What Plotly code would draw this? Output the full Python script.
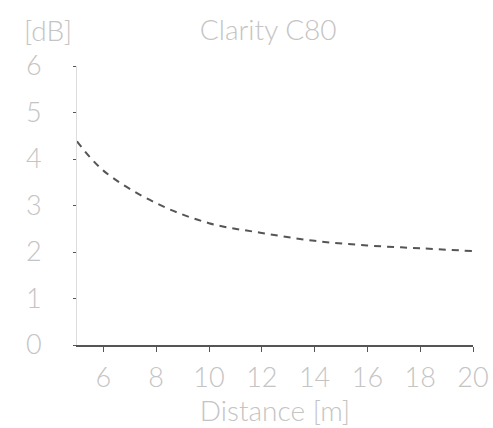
import plotly.graph_objects as go

distance = [5, 6, 8, 10, 12, 14, 16, 18, 20]
c80 = [4.38, 3.75, 3.05, 2.62, 2.41, 2.24, 2.14, 2.08, 2.02]

x_ticks = [6, 8, 10, 12, 14, 16, 18, 20]
y_ticks = [0, 1, 2, 3, 4, 5, 6]

FONT = "Lato"
WEIGHT = 300
GREY = "#c4c4c4"
SIZE = 27

def f(size=SIZE):
    return dict(family=FONT, size=size, color=GREY, weight=WEIGHT)

fig = go.Figure()
fig.add_trace(go.Scatter(
    x=distance, y=c80, mode="lines", line_shape="spline",
    line=dict(color="#555555", width=2, dash="7px,6px"),
    showlegend=False, hoverinfo="skip",
))

fig.update_layout(
    width=493, height=428,
    margin=dict(l=77, r=20, t=66, b=83, autoexpand=False),
    paper_bgcolor="white", plot_bgcolor="white",
    font=f(),
    title=dict(text="Clarity C80", x=0.544, xanchor="center", y=0.93, yanchor="middle", font=f(28)),
    xaxis=dict(
        range=[5, 20], tickvals=x_ticks, ticks="outside", ticklen=5, tickcolor="#555555",
        showline=True, linecolor="#555555", linewidth=1.5, showgrid=False, zeroline=False,
        automargin=False, tickfont=f(), ticklabelstandoff=3,
        title=dict(text="Distance [m]", standoff=6, font=f(28)),
    ),
    yaxis=dict(
        range=[0, 6], tickvals=y_ticks, ticks="outside", ticklen=3, tickcolor="#555555",
        showline=True, linecolor="#dddddd", linewidth=1, showgrid=False, zeroline=False,
        automargin=False, ticklabelstandoff=26, tickfont=f(),
    ),
    annotations=[dict(text="[dB]", xref="paper", yref="paper", x=-0.073, y=1.06,
                      xanchor="center", yanchor="bottom", showarrow=False, font=f(28))],
)

fig.write_html("out.html")
